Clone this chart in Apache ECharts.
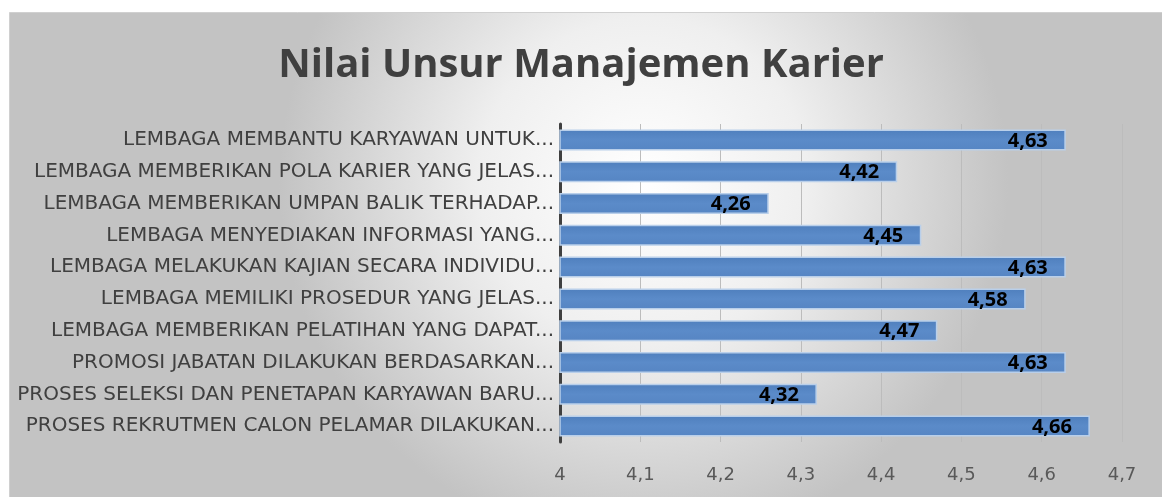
<!DOCTYPE html>
<html>
<head>
<meta charset="utf-8">
<script src="https://cdn.jsdelivr.net/npm/echarts@6/dist/echarts.min.js"></script>
<style>
html,body{margin:0;padding:0;background:#fff;}
#main{width:1162px;height:497px;}
</style>
</head>
<body>
<div id="main"></div>
<script>
var titleText = 'Nilai Unsur Manajemen Karier';
var categories = [
  'LEMBAGA MEMBANTU KARYAWAN UNTUK...',
  'LEMBAGA MEMBERIKAN POLA KARIER YANG JELAS...',
  'LEMBAGA MEMBERIKAN UMPAN BALIK TERHADAP...',
  'LEMBAGA MENYEDIAKAN INFORMASI YANG...',
  'LEMBAGA MELAKUKAN KAJIAN SECARA INDIVIDU...',
  'LEMBAGA MEMILIKI PROSEDUR YANG JELAS...',
  'LEMBAGA MEMBERIKAN PELATIHAN YANG DAPAT...',
  'PROMOSI JABATAN DILAKUKAN BERDASARKAN...',
  'PROSES SELEKSI DAN PENETAPAN KARYAWAN BARU...',
  'PROSES REKRUTMEN CALON PELAMAR DILAKUKAN...'
];
var values = [4.63, 4.42, 4.26, 4.45, 4.63, 4.58, 4.47, 4.63, 4.32, 4.66];
var axisMin = 4, axisMax = 4.7, axisStep = 0.1;

function comma(v){
  var s = (Math.abs(v - Math.round(v)) < 1e-9) ? String(Math.round(v)) : v.toFixed(2).replace(/0$/,'');
  return s.replace('.', ',');
}

var chart = echarts.init(document.getElementById('main'), null, {renderer:'canvas'});
chart.setOption({
  animation: false,
  backgroundColor: '#ffffff',
  graphic: [{
    type: 'rect',
    left: 9, top: 12, z: -10,
    shape: {width: 1153, height: 485},
    style: {
      fill: new echarts.graphic.RadialGradient(0.55, 0.35, 0.75, [
        {offset: 0, color: '#ffffff'},
        {offset: 0.45, color: '#efefef'},
        {offset: 1, color: '#c3c3c3'}
      ]),
      stroke: '#d0d0d0', lineWidth: 1
    }
  }],
  title: {
    text: titleText,
    left: 'center',
    top: 41,
    textStyle: {fontFamily: 'Open Sans', fontWeight: 'bold', fontSize: 40, color: '#404040'}
  },
  grid: {left: 560, right: 40, top: 124, bottom: 55, containLabel: false},
  xAxis: {
    type: 'value',
    min: axisMin, max: axisMax, interval: axisStep,
    axisLine: {show: false},
    axisTick: {show: false},
    splitLine: {show: true, lineStyle: {color: '#bcbcbc', width: 1}},
    axisLabel: {
      margin: 24,
      fontFamily: 'DejaVu Sans', fontSize: 18, color: '#595959',
      formatter: function(v){ return comma(v); }
    }
  },
  yAxis: {
    type: 'category',
    inverse: true,
    data: categories,
    axisLine: {show: true, lineStyle: {color: '#404040', width: 3}},
    axisTick: {show: false},
    axisLabel: {margin: 6, fontFamily: 'DejaVu Sans', fontSize: 20, color: '#404040'}
  },
  series: [{
    type: 'bar',
    data: values,
    barWidth: 21,
    itemStyle: {
      color: new echarts.graphic.LinearGradient(0, 0, 0, 1, [
        {offset: 0, color: '#4f7fbd'},
        {offset: 0.5, color: '#5b8bc9'},
        {offset: 1, color: '#5685c3'}
      ]),
      borderColor: '#b9cfea', borderWidth: 1.5
    },
    label: {
      show: true,
      position: 'insideRight',
      offset: [-13, 1],
      fontFamily: 'Open Sans', fontWeight: 'bold', fontSize: 20, color: '#000000',
      formatter: function(p){ return comma(p.value); }
    }
  }]
});
</script>
</body>
</html>
